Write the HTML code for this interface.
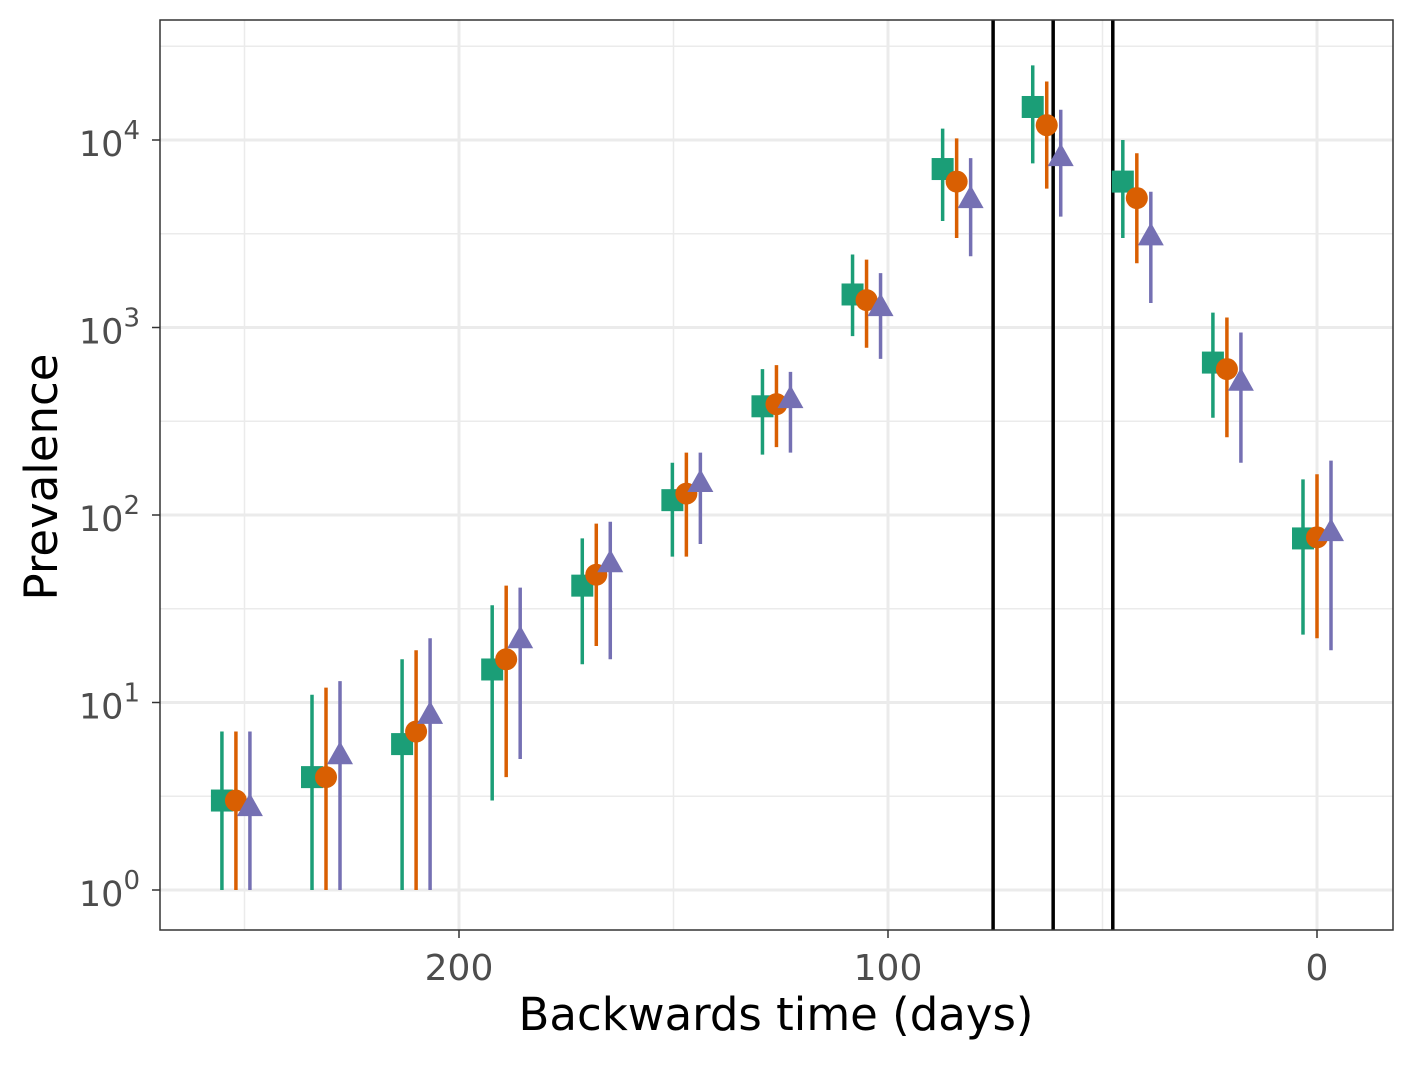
<!DOCTYPE html>
<html><head><meta charset="utf-8"><style>
body{margin:0;background:#fff}
svg text{font-family:"DejaVu Sans","Liberation Sans",sans-serif}
</style></head><body>
<svg id="chart" width="1417" height="1062" xmlns="http://www.w3.org/2000/svg">
<rect width="1417" height="1062" fill="#fff"/>
<g id="grid"></g><g id="vlines"></g><g id="marks"></g>
<rect x="160" y="20" width="1233" height="910" fill="none" stroke="#333" stroke-width="1.5"/>
<g id="axes"></g>
<text x="776" y="1030" font-size="45" text-anchor="middle" fill="#000">Backwards time (days)</text>
<text transform="translate(57,477) rotate(-90)" font-size="45" text-anchor="middle" fill="#000">Prevalence</text>
</svg>
<script>
const times=[252,231,210,189,168,147,126,105,84,63,42,21,0];
const sqVal=[3,4,6,15,42,120,380,1500,7000,15000,6000,650,75];
const sqLo=[1,1,1,3,16,60,210,900,3700,7500,3000,330,23];
const sqHi=[7,11,17,33,75,190,600,2450,11500,25000,10000,1200,155];
const ciVal=[3,4,7,17,48,130,390,1400,6000,12000,4900,600,76];
const ciLo=[1,1,1,4,20,60,230,780,3000,5500,2200,260,22];
const ciHi=[7,12,19,42,90,215,630,2300,10200,20500,8500,1130,165];
const trVal=[2.8,5.3,8.7,22,56,150,420,1300,4900,8200,3100,520,82];
const trLo=[1,1,1,5,17,70,215,680,2400,3900,1350,190,19];
const trHi=[7,13,22,41,92,215,580,1950,8000,14500,5300,940,195];
const vlineTimes=[75.5,61.5,47.6];
const xTicks=[200,100,0];
const xMinor=[250,150,50];
const yExps=[0,1,2,3,4];
const NS='http://www.w3.org/2000/svg';
const X=t=>1317-4.29*t;
const Y=v=>890-187.5*Math.log10(v);
function mk(p,tag,a){const e=document.createElementNS(NS,tag);for(const k in a)e.setAttribute(k,a[k]);p.appendChild(e);return e;}
const grid=document.getElementById('grid'),axes=document.getElementById('axes');
yExps.forEach(e=>{
 const l=mk(grid,'line',{x1:160,x2:1393,y1:Y(10**e),y2:Y(10**e),stroke:'#ebebeb','stroke-width':3});
 
 
 const m=mk(grid,'line',{x1:160,x2:1393,y1:Y(10**(e+0.5)),y2:Y(10**(e+0.5)),stroke:'#ebebeb','stroke-width':1.5});
 
 
 const t=mk(axes,'text',{x:140,y:Y(10**e)+16,'font-size':35,'text-anchor':'end',fill:'#4d4d4d'});
 
 
 t.innerHTML='10<tspan dy="-17" font-size="26">'+e+'</tspan>';
 mk(axes,'line',{x1:152,x2:160,y1:Y(10**e),y2:Y(10**e),stroke:'#333','stroke-width':1.5});
});
xMinor.forEach(v=>{const l=mk(grid,'line',{x1:X(v),x2:X(v),y1:20,y2:930,stroke:'#ebebeb','stroke-width':1.5});
 
 });
xTicks.forEach(v=>{
 const l=mk(grid,'line',{x1:X(v),x2:X(v),y1:20,y2:930,stroke:'#ebebeb','stroke-width':3});
 
 
 mk(axes,'line',{x1:X(v),x2:X(v),y1:930,y2:938,stroke:'#333','stroke-width':1.5});
 const t=mk(axes,'text',{x:X(v),y:980,'font-size':36,'text-anchor':'middle',fill:'#4d4d4d'});
 
 
 t.textContent=v;
});
const vl=document.getElementById('vlines');
vlineTimes.forEach(v=>{const l=mk(vl,'line',{x1:X(v),x2:X(v),y1:20,y2:930,stroke:'#000','stroke-width':3.5});
 
 });
const marks=document.getElementById('marks');
const series=[
 {v:sqVal,lo:sqLo,hi:sqHi,c:'#1b9e77',dx:-14,s:'sq',n:'square'},
 {v:ciVal,lo:ciLo,hi:ciHi,c:'#d95f02',dx:0,s:'ci',n:'circle'},
 {v:trVal,lo:trLo,hi:trHi,c:'#7570b3',dx:14,s:'tr',n:'triangle'}];
series.forEach(s=>{
 times.forEach((t,i)=>{
  const x=X(t)+s.dx;
  const eb=mk(marks,'line',{x1:x,x2:x,y1:Y(s.lo[i]),y2:Y(s.hi[i]),stroke:s.c,'stroke-width':3.5});
  
  
  const y=Y(s.v[i]);let p;
  if(s.s==='sq')p=mk(marks,'rect',{x:x-11,y:y-11,width:22,height:22,fill:s.c});
  else if(s.s==='ci')p=mk(marks,'circle',{cx:x,cy:y,r:11,fill:s.c});
  else p=mk(marks,'polygon',{points:`${x-13},${y+10} ${x+13},${y+10} ${x},${y-13}`,fill:s.c});
  
  
 });
});
</script>
</body></html>
